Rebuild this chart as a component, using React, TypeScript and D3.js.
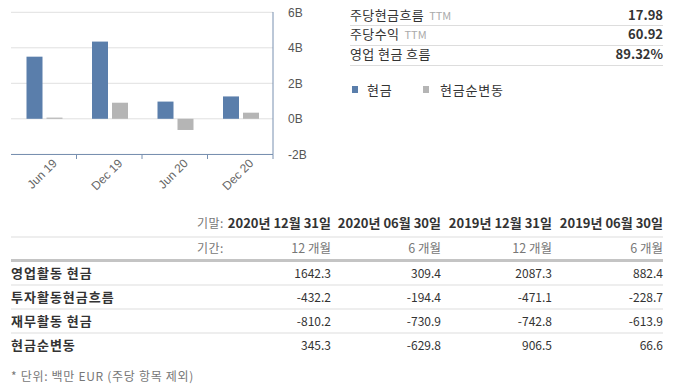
import React from "react";
import * as d3 from "d3";

const periods = ["Jun 19", "Dec 19", "Jun 20", "Dec 20"];
const cashB = [3.5, 4.35, 0.97, 1.26];
const netChangeM = [66.6, 906.5, -629.8, 345.3];
const yTicks = [-2, 0, 2, 4, 6];

const statLabels = ["주당현금흐름", "주당수익", "영업 현금 흐름"];
const statSuffix = ["TTM", "TTM", ""];
const statValues = ["17.98", "60.92", "89.32%"];

const legendLabels = ["현금", "현금순변동"];

const colDates = ["2020년 12월 31일", "2020년 06월 30일", "2019년 12월 31일", "2019년 06월 30일"];
const colPeriods = ["12 개월", "6 개월", "12 개월", "6 개월"];
const rowLabels = ["영업활동 현금", "투자활동현금흐름", "재무활동 현금", "현금순변동"];
const rowValues = [
  ["1642.3", "309.4", "2087.3", "882.4"],
  ["-432.2", "-194.4", "-471.1", "-228.7"],
  ["-810.2", "-730.9", "-742.8", "-613.9"],
  ["345.3", "-629.8", "906.5", "66.6"],
];

const BLUE = "#5a7eab";
const GREY = "#b5b5b5";
const FONT = "'Noto Sans CJK KR', 'Noto Sans', sans-serif";
const LAT = "'Liberation Sans', Arial, sans-serif";

export default function App() {
  const x = d3.scaleBand<string>().domain(periods).range([11, 273]);
  const y = d3.scaleLinear().domain([-2, 6]).range([154.3, 12.3]);
  const barW = 16;
  const colRight = [331, 441, 552, 663];

  return (
    <svg
      width={675}
      height={386}
      style={{ position: "absolute", left: 0, top: 0, background: "#fff" }}
      fontFamily={FONT}
    >
      {/* gridlines */}
      {yTicks.map((t) => (
        <line key={"g" + t} x1={11} x2={273} y1={y(t)} y2={y(t)} stroke="#e0e0e0" strokeWidth={1} />
      ))}
      {yTicks.map((t) => (
        <text key={"yt" + t} x={288} y={y(t) + 4.5} fontSize={12} fill="#555" fontFamily={LAT}>
          {t + "B"}
        </text>
      ))}
      {/* bars */}
      {periods.map((p, i) => {
        const bx = x(p)!;
        const yb = cashB[i];
        const yg = netChangeM[i] / 1000;
        return (
          <g key={p}>
            <rect x={bx + 15.5} width={barW} y={Math.min(y(yb), y(0))} height={Math.abs(y(yb) - y(0))} fill={BLUE} />
            <rect x={bx + 35.5} width={barW} y={Math.min(y(yg), y(0))} height={Math.max(1, Math.abs(y(yg) - y(0)))} fill={GREY} />
          </g>
        );
      })}
      {/* axes */}
      <line x1={273} x2={273} y1={12} y2={154.5} stroke="#7890b0" strokeWidth={1} />
      <line x1={11} x2={273} y1={154.5} y2={154.5} stroke="#7890b0" strokeWidth={1} />
      {periods.map((p) => (
        <line key={"tk" + p} x1={x(p)! + x.bandwidth()} x2={x(p)! + x.bandwidth()} y1={154.5} y2={159} stroke="#7890b0" />
      ))}
      {periods.map((p) => {
        const cx = x(p)! + x.bandwidth() / 2 + 14;
        return (
          <text
            key={"xl" + p}
            transform={`translate(${cx},${164}) rotate(-45)`}
            textAnchor="end"
            fontSize={12}
            fill="#666"
            fontFamily={LAT}
          >
            {p}
          </text>
        );
      })}

      {/* stats panel */}
      {statLabels.map((s, i) => (
        <g key={"st" + i}>
          <text x={350} y={19.5 + i * 19.5} fontSize={13} fill="#333" letterSpacing={0.4}>
            {s}
            {statSuffix[i] && (
              <tspan fill="#aaa" fontSize={11} dx={5} letterSpacing={0}>
                {statSuffix[i]}
              </tspan>
            )}
          </text>
          <text x={663} y={19.5 + i * 19.5} fontSize={13} fontWeight="bold" fill="#333" textAnchor="end">
            {statValues[i]}
          </text>
          <line x1={350} x2={663} y1={25.5 + i * 20} y2={25.5 + i * 20} stroke="#ddd" />
        </g>
      ))}
      {/* legend */}
      {legendLabels.map((l, i) => (
        <g key={"lg" + i}>
          <rect x={352 + i * 71} y={86} width={6} height={7} fill={i === 0 ? BLUE : GREY} />
          <text x={367 + i * 73} y={94.5} fontSize={13} fill="#333" letterSpacing={0.8}>
            {l}
          </text>
        </g>
      ))}

      {/* table */}
      <text x={197} y={228} fontSize={12} fill="#777" letterSpacing={0.5}>기말:</text>
      {colDates.map((d, i) => (
        <text key={"cd" + i} x={colRight[i]} y={228} fontSize={13} fontWeight="bold" fill="#333" textAnchor="end">
          {d}
        </text>
      ))}
      <line x1={11} x2={663} y1={237} y2={237} stroke="#ddd" />
      <text x={197} y={253} fontSize={12} fill="#777" letterSpacing={0.5}>기간:</text>
      {colPeriods.map((d, i) => (
        <text key={"cp" + i} x={colRight[i]} y={253} fontSize={12.5} fill="#777" textAnchor="end">
          {d}
        </text>
      ))}
      <line x1={11} x2={663} y1={260.5} y2={260.5} stroke="#c4c4c4" strokeWidth={3} />
      {rowLabels.map((r, ri) => (
        <g key={"r" + ri}>
          <text x={11} y={278 + ri * 24} fontSize={13} fontWeight="bold" fill="#333" letterSpacing={1}>
            {r}
          </text>
          {rowValues[ri].map((v, ci) => (
            <text key={"v" + ci} x={colRight[ci]} y={278 + ri * 24} fontSize={12} fill="#333" textAnchor="end">
              {v}
            </text>
          ))}
          {ri < rowLabels.length - 1 && (
            <line x1={11} x2={663} y1={285 + ri * 24} y2={285 + ri * 24} stroke="#ddd" />
          )}
        </g>
      ))}
      <text x={11} y={381} fontSize={12} fill="#777" letterSpacing={0.7}>* 단위: 백만 EUR (주당 항목 제외)</text>
    </svg>
  );
}
